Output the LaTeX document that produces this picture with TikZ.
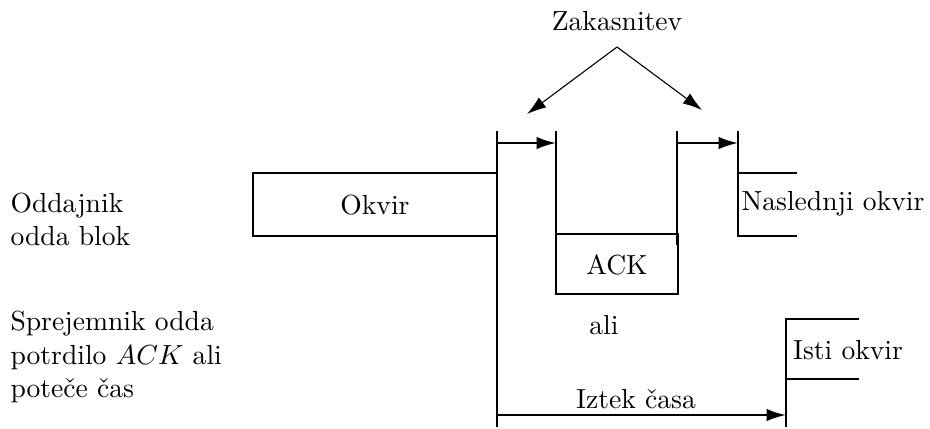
\documentclass[tikz,border=0pt]{standalone}
\usetikzlibrary{arrows.meta}
\begin{document}
\begin{tikzpicture}[x=0.3623pt,y=-0.3623pt,
  ln/.style={line width=0.8pt},
  arr/.style={ln,-{Latex[length=7,width=4.5]}},
  thinarr/.style={line width=0.4pt,-{Latex[length=7,width=4.5]}},
  lbl/.style={inner sep=0pt}]
\useasboundingbox (0,0) rectangle (930,428);
% coordinates
\coordinate (m0) at (497,131);
\coordinate (m1) at (497,427);
\coordinate (ok1) at (253,173);
\coordinate (ok2) at (253,236);
\coordinate (okt) at (497,173);
\coordinate (okb) at (497,236);
\coordinate (a0) at (556,131);
\coordinate (a1) at (556,294);
\coordinate (a2) at (678,294);
\coordinate (a3) at (678,234);
\coordinate (a4) at (556,234);
\coordinate (b0) at (677,131);
\coordinate (b1) at (677,245);
\coordinate (c0) at (738,131);
\coordinate (c1) at (738,236);
\coordinate (ct) at (738,173);
\coordinate (nt) at (797,173);
\coordinate (nb) at (797,236);
\coordinate (d0) at (786,319);
\coordinate (d1) at (786,427);
\coordinate (it) at (859,319);
\coordinate (ib) at (859,379);
\coordinate (db) at (786,379);
\coordinate (ar1s) at (497,143);
\coordinate (ar1e) at (556,143);
\coordinate (ar2s) at (677,143);
\coordinate (ar2e) at (738,143);
\coordinate (ar3s) at (497,415);
\coordinate (ar3e) at (786,415);
\coordinate (apex) at (617,47);
\coordinate (tipl) at (527,114);
\coordinate (tipr) at (702,110);
% texts
\node[lbl] (zak) at (617,21) {Zakasnitev};
\node[lbl] (okv) at (375,205) {Okvir};
\node[lbl] (ack) at (617,265) {ACK};
\node[lbl] (nas) at (833,204) {Naslednji okvir};
\node[lbl] (isti) at (848,350) {Isti okvir};
\node[lbl] (ali) at (604,325) {ali};
\node[lbl] (izt) at (636,399) {Iztek časa};
\node[lbl,align=left,anchor=west] (odd) at (10,219) {Oddajnik\\odda blok};
\node[lbl,align=left,anchor=west] (spr) at (10,357) {Sprejemnik odda\\potrdilo $ACK$ ali\\poteče čas};
% lines
\draw[ln] (m0) -- (m1);
\draw[ln] (okt) -- (ok1) -- (ok2) -- (okb);
\draw[ln] (a0) -- (a1) -- (a2) -- (a3) -- (a4);
\draw[ln] (b0) -- (b1);
\draw[ln] (c0) -- (c1) -- (nb);
\draw[ln] (ct) -- (nt);
\draw[ln] (d1) -- (d0) -- (it);
\draw[ln] (db) -- (ib);
\draw[arr] (ar1s) -- (ar1e);
\draw[arr] (ar2s) -- (ar2e);
\draw[arr] (ar3s) -- (ar3e);
\draw[thinarr] (apex) -- (tipl);
\draw[thinarr] (apex) -- (tipr);
\end{tikzpicture}
\end{document}
